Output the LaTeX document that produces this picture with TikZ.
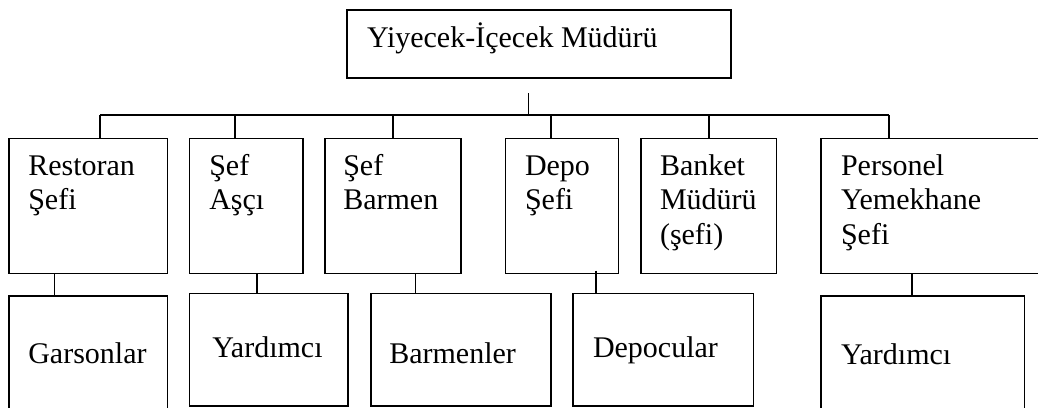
\documentclass[tikz,border=0pt]{standalone}
\usepackage{fontspec}
\setmainfont{Liberation Serif}
\begin{document}
\begin{tikzpicture}[x=1pt,y=-1pt,
  box/.style={draw,line width=1.6pt,inner sep=0pt,outer sep=0pt,anchor=north west},
  lbl/.style={anchor=base west,inner sep=0pt,outer sep=0pt,
              font=\fontsize{30}{34.7}\selectfont},
  link/.style={line width=1.6pt}]
\useasboundingbox (0,0) rectangle (1038,407);
\clip (0,0) rectangle (1038,407);

% boxes
\node[box,minimum width=384pt,minimum height=68pt]    (head)     at (347,10) {};
\node[box,minimum width=158.3pt,minimum height=135pt] (restoran) at (9,138.3) {};
\node[box,minimum width=113.4pt,minimum height=135pt] (asci)     at (189.3,138.3) {};
\node[box,minimum width=136pt,minimum height=135pt]   (barmen)   at (325,138.3) {};
\node[box,minimum width=113pt,minimum height=135pt]   (depo)     at (505.3,138.3) {};
\node[box,minimum width=135.3pt,minimum height=135pt] (banket)   at (641,138.3) {};
\node[box,minimum width=240pt,minimum height=135pt]   (personel) at (821,138.3) {};
\node[box,minimum width=158.3pt,minimum height=130pt] (garson)   at (9,296) {};
\node[box,minimum width=158.4pt,minimum height=112.4pt] (yard1)  at (189.3,293.3) {};
\node[box,minimum width=180pt,minimum height=112.4pt] (barmenler) at (370.7,293.3) {};
\node[box,minimum width=180.6pt,minimum height=112.4pt] (depocu) at (572.7,293.3) {};
\node[box,minimum width=203.3pt,minimum height=130pt] (yard2)    at (821,295.7) {};

% texts
\node[lbl] (headT)     at (367,47)     {Yiyecek-İçecek Müdürü};
\node[lbl] (restoranT) at (28.3,175)   {\vtop{\hbox{Restoran}\hbox{Şefi}}};
\node[lbl] (asciT)     at (209.3,175)  {\vtop{\hbox{Şef}\hbox{Aşçı}}};
\node[lbl] (barmenT)   at (343.3,175)  {\vtop{\hbox{Şef}\hbox{Barmen}}};
\node[lbl] (depoT)     at (525,175)    {\vtop{\hbox{Depo}\hbox{Şefi}}};
\node[lbl] (banketT)   at (660,175)    {\vtop{\hbox{Banket}\hbox{Müdürü}\hbox{(şefi)}}};
\node[lbl] (personelT) at (841,175)    {\vtop{\hbox{Personel}\hbox{Yemekhane}\hbox{Şefi}}};
\node[lbl] (garsonT)   at (28.3,363)   {Garsonlar};
\node[lbl] (yard1T)    at (212.3,357)  {Yardımcı};
\node[lbl] (barmenlerT) at (389.3,363) {Barmenler};
\node[lbl] (depocuT)   at (593,357)    {Depocular};
\node[lbl] (yard2T)    at (841,364)    {Yardımcı};

% bus under the head box
\coordinate (top) at (528.3,93);
\coordinate (busL) at (100,115);
\coordinate (busR) at (889,115);
\draw[link] (top) -- (top |- busL);
\draw[link] (busL) -- (busR);

% drops to the first level
\coordinate (d2) at (235,115);
\coordinate (d3) at (392.7,115);
\coordinate (d4) at (550.7,115);
\coordinate (d5) at (708.7,115);
\draw[link] (busL) -- (busL |- restoran.north);
\draw[link] (d2) -- (d2 |- asci.north);
\draw[link] (d3) -- (d3 |- barmen.north);
\draw[link] (d4) -- (d4 |- depo.north);
\draw[link] (d5) -- (d5 |- banket.north);
\draw[link] (busR) -- (busR |- personel.north);

% links to the second level
\coordinate (k1) at (54.3,0);
\coordinate (k2) at (257,0);
\coordinate (k3) at (415.3,0);
\coordinate (k4) at (596,0);
\coordinate (k5) at (911.7,0);
\draw[link] (restoran.south -| k1) -- (garson.north -| k1);
\draw[link] (asci.south -| k2) -- (yard1.north -| k2);
\draw[link] (barmen.south -| k3) -- (barmenler.north -| k3);
\draw[link] ([yshift=2.6pt]depo.south -| k4) -- (depocu.north -| k4);
\draw[link] (personel.south -| k5) -- (yard2.north -| k5);
\end{tikzpicture}
\end{document}
